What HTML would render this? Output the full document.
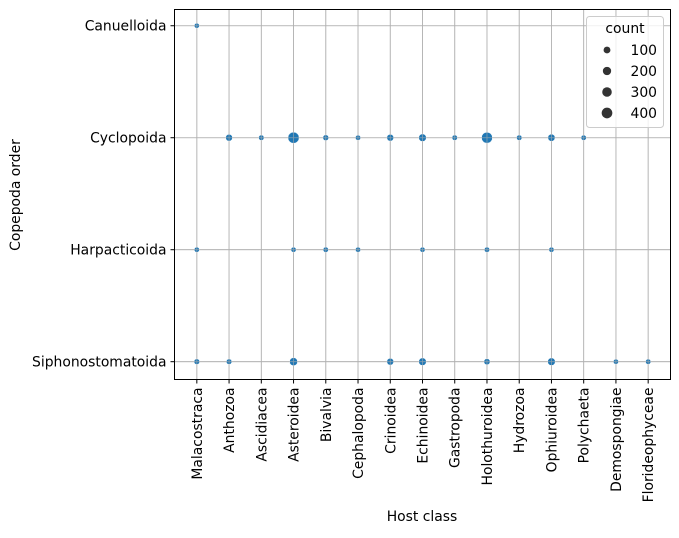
<!DOCTYPE html>
<html><head><meta charset="utf-8"><style>
body{margin:0;background:#fff}
svg{font-family:"DejaVu Sans","Liberation Sans",sans-serif}
</style></head><body>
<svg id="chart" width="679" height="533" xmlns="http://www.w3.org/2000/svg">
<g id="grid"></g>
<g id="pts"></g>
<g id="gridTop"></g>
<rect x="174.5" y="9.5" width="496" height="370" fill="none" stroke="#000" stroke-width="1"/>
<g id="xt"></g>
<g id="yt"></g>
<text x="422" y="521" font-size="13.9" text-anchor="middle">Host class</text>
<text transform="translate(20,195) rotate(-90)" font-size="13.9" text-anchor="middle">Copepoda order</text>
<g id="legend">
<rect x="586.5" y="16.5" width="77" height="111" rx="3" fill="#fff" fill-opacity="0.8" stroke="#ccc"/>
<text x="625" y="33" font-size="13.9" text-anchor="middle">count</text>
</g>
</svg>
<script>
const hosts=["Malacostraca","Anthozoa","Ascidiacea","Asteroidea","Bivalvia","Cephalopoda","Crinoidea","Echinoidea","Gastropoda","Holothuroidea","Hydrozoa","Ophiuroidea","Polychaeta","Demospongiae","Florideophyceae"];
const orders=["Canuelloida","Cyclopoida","Harpacticoida","Siphonostomatoida"];
const ptHost=["Malacostraca","Anthozoa","Ascidiacea","Asteroidea","Bivalvia","Cephalopoda","Crinoidea","Echinoidea","Gastropoda","Holothuroidea","Hydrozoa","Ophiuroidea","Polychaeta","Malacostraca","Asteroidea","Bivalvia","Cephalopoda","Echinoidea","Holothuroidea","Ophiuroidea","Malacostraca","Anthozoa","Asteroidea","Crinoidea","Echinoidea","Holothuroidea","Ophiuroidea","Demospongiae","Florideophyceae"];
const ptOrder=["Canuelloida","Cyclopoida","Cyclopoida","Cyclopoida","Cyclopoida","Cyclopoida","Cyclopoida","Cyclopoida","Cyclopoida","Cyclopoida","Cyclopoida","Cyclopoida","Cyclopoida","Harpacticoida","Harpacticoida","Harpacticoida","Harpacticoida","Harpacticoida","Harpacticoida","Harpacticoida","Siphonostomatoida","Siphonostomatoida","Siphonostomatoida","Siphonostomatoida","Siphonostomatoida","Siphonostomatoida","Siphonostomatoida","Siphonostomatoida","Siphonostomatoida"];
const ptCount=[5,100,20,450,40,12,100,150,20,430,20,120,15,10,10,15,10,10,15,10,30,25,180,100,150,60,150,10,15];
const legendVals=[100,200,300,400];
const legendLabels=["100","200","300","400"];
const NS="http://www.w3.org/2000/svg";
const X0=174.5,X1=670.5,Y0=9.5,Y1=379.5;
function xs(h){const i=hosts.indexOf(h);const s=(X1-X0)/(hosts.length-1+1.385);return X0+s*0.6925+i*s;}
function ys(o){const i=orders.indexOf(o);const s=(Y1-Y0)/(orders.length-1+0.304);return Y0+s*0.145+i*s;}
const cmin=Math.min(...ptCount),cmax=Math.max(...ptCount);
function rad(c){const a=26+(c-cmin)/(cmax-cmin)*(125-26);return Math.sqrt(Math.max(a,4))/2;}
function mk(t,a,p){const e=document.createElementNS(NS,t);for(const k in a)e.setAttribute(k,a[k]);p.appendChild(e);return e;}
const grid=document.getElementById('grid'),gt=document.getElementById('gridTop'),xt=document.getElementById('xt'),yt=document.getElementById('yt'),pts=document.getElementById('pts'),lg=document.getElementById('legend');
hosts.forEach(h=>{const x=xs(h);
 for(const g of [grid,gt]){const l=mk('line',{x1:x,x2:x,y1:Y0,y2:Y1,stroke:'#b0b0b0','stroke-width':0.8},g);
 
 }
 const t=mk('line',{x1:x,x2:x,y1:Y1,y2:Y1+4,stroke:'#000'},xt);
 
 
 const tx=mk('text',{transform:`translate(${x+5},${Y1+8}) rotate(-90)`,'font-size':13.9,'text-anchor':'end'},xt);
 tx.textContent=h;
 
 
});
orders.forEach(o=>{const y=ys(o);
 for(const g of [grid,gt]){const l=mk('line',{x1:X0,x2:X1,y1:y,y2:y,stroke:'#b0b0b0','stroke-width':0.8},g);
 
 }
 const t=mk('line',{x1:X0-4,x2:X0,y1:y,y2:y,stroke:'#000'},yt);
 
 
 const tx=mk('text',{x:X0-8,y:y+5,'font-size':13.9,'text-anchor':'end'},yt);
 tx.textContent=o;
 
 
});
ptCount.forEach((c,i)=>{const p=mk('circle',{cx:xs(ptHost[i]),cy:ys(ptOrder[i]),r:rad(c),fill:'#1f77b4',stroke:'#fff','stroke-width':0.5},pts);
 
 
});
gt.setAttribute('opacity','0.7');
legendVals.forEach((v,i)=>{const y=50+i*21;
 const c=mk('circle',{cx:607,cy:y,r:rad(v),fill:'#333'},lg);
 
 
 const t=mk('text',{x:657,y:y+5,'font-size':13.9,'text-anchor':'end'},lg);
 t.textContent=legendLabels[i];
 
 
});
</script>
</body></html>
